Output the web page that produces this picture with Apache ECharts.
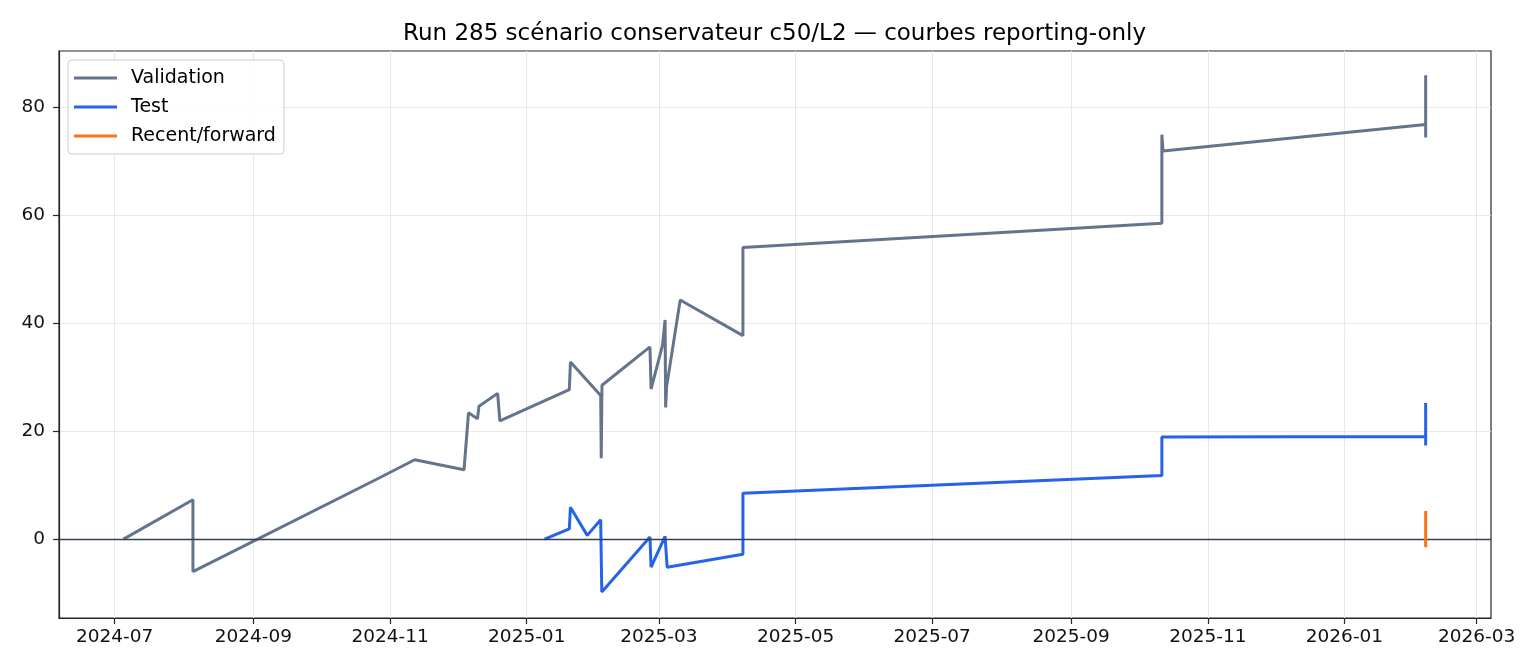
<!DOCTYPE html>
<html>
<head>
<meta charset="utf-8">
<script src="https://cdn.jsdelivr.net/npm/echarts@6/dist/echarts.min.js"></script>
<style>
  html, body { margin: 0; padding: 0; background: #fff; }
  #chart { width: 1540px; height: 672px; }
</style>
</head>
<body>
<div id="chart"></div>
<script>
// dates are UTC, 'YYYY-MM-DD' or 'YYYY-MM-DD HH:mm'
const t = s => Date.parse(s.length === 10 ? s + 'T00:00Z' : s.replace(' ', 'T') + 'Z');

const xTicks = ['2024-07-01', '2024-09-01', '2024-11-01', '2025-01-01', '2025-03-01',
  '2025-05-01', '2025-07-01', '2025-09-01', '2025-11-01', '2026-01-01', '2026-03-01'];
const yTicks = [0, 20, 40, 60, 80];

// Validation
const valDates = ['2024-07-05', '2024-08-05', '2024-08-05', '2024-10-26', '2024-11-12',
  '2024-12-04', '2024-12-06', '2024-12-10', '2024-12-10 16:00', '2024-12-19', '2024-12-20',
  '2025-01-20', '2025-01-20 12:00', '2025-02-03', '2025-02-03 06:00', '2025-02-03 14:00',
  '2025-02-25', '2025-02-25 12:00', '2025-03-02 14:00', '2025-03-03 18:00', '2025-03-04',
  '2025-03-04 10:00', '2025-03-10 12:00', '2025-04-07 12:00', '2025-04-07 12:00',
  '2025-10-11 12:00', '2025-10-11 12:00', '2025-10-12', '2026-02-06 06:00',
  '2026-02-06 06:00', '2026-02-06 06:00'];
const valValues = [0, 7.3, -6.0, 11.1, 14.7,
  12.85, 23.4, 22.3, 24.6, 27.0, 21.9,
  27.7, 32.8, 26.6, 15.0, 28.5,
  35.6, 27.8, 35.9, 40.6, 24.4,
  28.2, 44.3, 37.7, 54.0,
  58.5, 74.9, 71.9, 76.8,
  85.9, 74.4];

// Test
const testDates = ['2025-01-09', '2025-01-20', '2025-01-20 12:00', '2025-01-28', '2025-02-03',
  '2025-02-03 12:00', '2025-02-25', '2025-02-25 12:00', '2025-03-03 18:00', '2025-03-04 16:00',
  '2025-04-07 12:00', '2025-04-07 12:00', '2025-10-11 12:00', '2025-10-11 12:00',
  '2026-02-06 06:00', '2026-02-06 06:00', '2026-02-06 06:00'];
const testValues = [0, 1.9, 5.9, 0.7, 3.6,
  -9.8, 0.4, -5.2, 0.5, -5.2,
  -2.8, 8.5, 11.8, 18.9,
  19.0, 25.2, 17.35];

// Recent/forward
const recentDates = ['2026-02-06 06:00', '2026-02-06 06:00', '2026-02-06 06:00'];
const recentValues = [-0.2, 5.2, -1.5];

const pairs = (dates, values) => dates.map((d, i) => [t(d), values[i]]);

const font = 'DejaVu Sans';
const frame = '#262626';

const chart = echarts.init(document.getElementById('chart'));
chart.setOption({
  animation: false,
  color: ['#64748b', '#2563eb', '#f97316'],
  textStyle: { fontFamily: font },
  title: {
    text: 'Run 285 scénario conservateur c50/L2 — courbes reporting-only',
    left: 398,
    top: 18,
    textStyle: { fontFamily: font, fontSize: 23, fontWeight: 'normal', color: '#000' }
  },
  legend: {
    left: 68,
    top: 60,
    orient: 'vertical',
    icon: 'rect',
    itemWidth: 43,
    itemHeight: 3,
    itemGap: 9,
    padding: [8, 8, 8, 6],
    backgroundColor: 'rgba(255,255,255,0.8)',
    borderColor: '#cccccc',
    borderWidth: 1,
    borderRadius: 4,
    textStyle: { fontFamily: font, fontSize: 19, color: '#000', lineHeight: 20, padding: [0, 0, 0, 9] },
    data: ['Validation', 'Test', 'Recent/forward']
  },
  grid: {
    left: 59, right: 49, top: 51, bottom: 54,
    show: true, borderColor: frame, borderWidth: 1.2, backgroundColor: 'transparent'
  },
  xAxis: {
    type: 'value',
    min: t('2024-06-06 05:00'),
    max: t('2026-03-07 10:00'),
    axisLine: { show: true, onZero: false, lineStyle: { color: frame, width: 1.2 } },
    axisTick: { show: true, length: 6, lineStyle: { color: frame, width: 1.2 }, customValues: xTicks.map(t) },
    axisLabel: {
      customValues: xTicks.map(t),
      fontFamily: font, fontSize: 18.5, color: '#111', margin: 10,
      formatter: v => {
        const d = new Date(v);
        return d.getUTCFullYear() + '-' + String(d.getUTCMonth() + 1).padStart(2, '0');
      }
    },
    splitLine: { show: true, lineStyle: { color: '#e8e8e8', width: 1 } }
  },
  yAxis: {
    type: 'value',
    min: -14.6,
    max: 90.4,
    axisLine: { show: true, lineStyle: { color: frame, width: 1.2 } },
    axisTick: { show: true, length: 6, lineStyle: { color: frame, width: 1.2 }, customValues: yTicks },
    axisLabel: { customValues: yTicks, fontFamily: font, fontSize: 18.5, color: '#111', margin: 14 },
    splitLine: { show: true, lineStyle: { color: '#e8e8e8', width: 1 } }
  },
  series: [
    {
      name: 'Validation', type: 'line', showSymbol: false, symbol: 'none',
      lineStyle: { width: 3 }, z: 3,
      data: pairs(valDates, valValues),
      markLine: {
        silent: true, symbol: 'none', label: { show: false },
        lineStyle: { color: '#334155', width: 1.4, type: 'solid' },
        data: [{ yAxis: 0 }]
      }
    },
    {
      name: 'Test', type: 'line', showSymbol: false, symbol: 'none',
      lineStyle: { width: 3 }, z: 4,
      data: pairs(testDates, testValues)
    },
    {
      name: 'Recent/forward', type: 'line', showSymbol: false, symbol: 'none',
      lineStyle: { width: 3 }, z: 5,
      data: pairs(recentDates, recentValues)
    }
  ]
});
</script>
</body>
</html>
